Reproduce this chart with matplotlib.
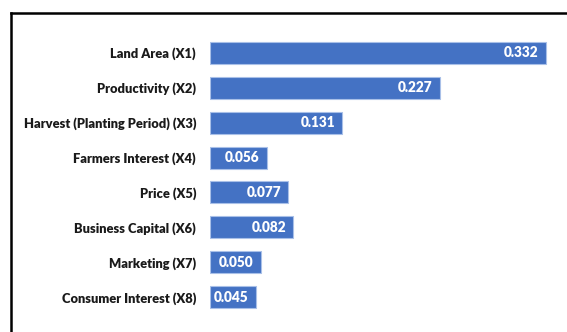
import matplotlib.pyplot as plt
from matplotlib.lines import Line2D

plt.rcParams['font.family'] = ['Lato', 'DejaVu Sans']

factors = ['Land Area (X1)', 'Productivity (X2)', 'Harvest (Planting Period) (X3)',
           'Farmers Interest (X4)', 'Price (X5)', 'Business Capital (X6)',
           'Marketing (X7)', 'Consumer Interest (X8)']
weights = [0.332, 0.227, 0.131, 0.056, 0.077, 0.082, 0.050, 0.045]

W, H = 567, 332
fig = plt.figure(figsize=(W / 100, H / 100), dpi=100)
ax = fig.add_axes([210 / W, 1 - 314.5 / H, 354 / W, 279 / H])

pos = list(range(len(factors)))
bars = ax.barh(pos, weights, height=0.63, color='#4472C4',
               edgecolor='#A9C0E8', linewidth=0.8)
ax.set_ylim(len(factors) - 0.5, -0.5)
ax.set_xlim(0, 0.35)

for p, w in zip(pos, weights):
    ax.annotate(f'{w:.3f}', (w, p), xytext=(-7, 0), textcoords='offset pixels',
                ha='right', va='center', color='white', fontsize=9.8,
                fontweight='heavy')

ax.set_yticks(pos)
ax.set_yticklabels(factors, fontsize=9.3, fontweight='heavy', color='#1a1a1a')
ax.tick_params(axis='y', length=0, pad=10)
ax.set_xticks([])
for s in ax.spines.values():
    s.set_visible(False)

# border around the chart area (top and left edges only)
fig.add_artist(Line2D([11 / W, 1], [1 - 13 / H, 1 - 13 / H], color='black',
                      lw=1.8, transform=fig.transFigure))
fig.add_artist(Line2D([11 / W, 11 / W], [0, 1 - 13 / H], color='black',
                      lw=1.8, transform=fig.transFigure))

fig.savefig('out.png', dpi=100)
